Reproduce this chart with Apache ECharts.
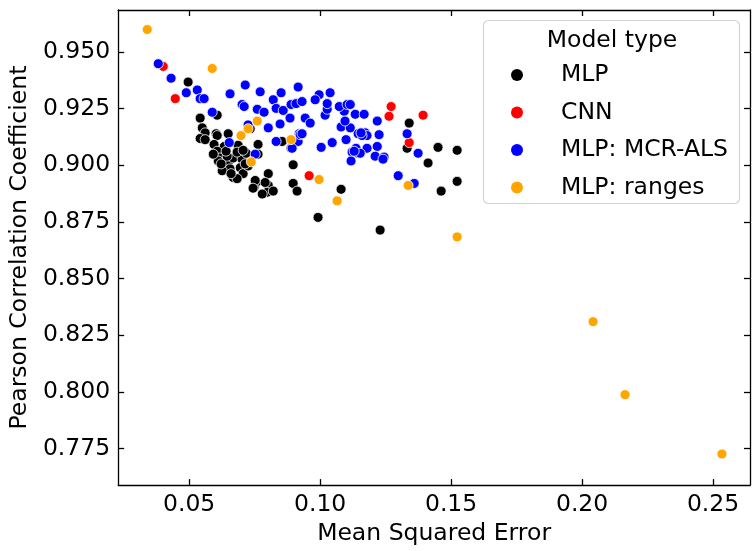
<!DOCTYPE html>
<html><head><meta charset="utf-8">
<script src="https://cdn.jsdelivr.net/npm/echarts@6/dist/echarts.min.js"></script>
<style>html,body{margin:0;padding:0;background:#fff}#c{width:752px;height:551px}</style>
</head><body><div id="c"></div>
<script>
const seriesNames = ['MLP', 'CNN', 'MLP: MCR-ALS', 'MLP: ranges'];
const seriesColors = ['#000000', '#ff0000', '#0000ff', '#ffa500'];

const mlp = [
[0.0496,0.9367],[0.0542,0.9208],[0.0607,0.9221],[0.0550,0.9165],[0.0561,0.9143],[0.0603,0.9139],[0.0649,0.9139],
[0.0542,0.9118],[0.0561,0.9113],[0.0607,0.9131],[0.0595,0.9092],[0.0634,0.9083],[0.0687,0.9088],[0.0763,0.9092],
[0.0607,0.9062],[0.0618,0.9032],[0.0611,0.9019],[0.0630,0.8997],[0.0649,0.9010],[0.0668,0.9032],[0.0702,0.9027],
[0.0695,0.8989],[0.0649,0.8976],[0.0668,0.8946],[0.0706,0.8963],[0.0656,0.8984],[0.0626,0.8976],[0.0763,0.9049],
[0.0802,0.8963],[0.0756,0.8924],[0.0802,0.8911],[0.0798,0.8881],[0.0748,0.8903],[0.0779,0.8873],[0.0897,0.9002],
[0.0897,0.8920],[0.0912,0.8886],[0.0645,0.9040],[0.0683,0.9058],[0.0592,0.9049],[0.0725,0.8997],[0.0718,0.9053],
[0.0706,0.9066],[0.0855,0.9105],[0.0889,0.9075],[0.0733,0.9161],[0.1340,0.9186],[0.1332,0.9075],[0.1450,0.9079],
[0.1523,0.9066],[0.0790,0.8924],[0.0752,0.8933],[0.0744,0.8899],[0.0821,0.8886],[0.1080,0.8894],[0.0992,0.8770],
[0.1229,0.8714],[0.1412,0.9010],[0.1462,0.8886],[0.1523,0.8929],[0.0683,0.8941],[0.0622,0.9006],[0.0660,0.8963],
[0.0641,0.9062],[0.0714,0.9006]
];
const cnn = [
[0.0401,0.9436],[0.0447,0.9294],[0.0958,0.8954],[0.1271,0.9259],[0.1263,0.9216],[0.1393,0.9221],[0.1340,0.9100]
];
const mcrAls = [
[0.0382,0.9448],[0.0431,0.9384],[0.0489,0.9320],[0.0531,0.9332],[0.0542,0.9294],[0.0557,0.9294],[0.0588,0.9234],
[0.0656,0.9315],[0.0714,0.9354],[0.0702,0.9268],[0.0710,0.9259],[0.0760,0.9247],[0.0771,0.9324],[0.0725,0.9178],
[0.0802,0.9165],[0.0847,0.9182],[0.0885,0.9208],[0.0653,0.9100],[0.0752,0.9049],[0.0832,0.9105],[0.0920,0.9139],
[0.0916,0.9105],[0.0916,0.9345],[0.0851,0.9320],[0.0821,0.9289],[0.0786,0.9234],[0.0832,0.9251],[0.0859,0.9242],
[0.0889,0.9268],[0.0908,0.9272],[0.0931,0.9281],[0.0943,0.9208],[0.0962,0.9186],[0.0924,0.9135],[0.0931,0.9139],
[0.0893,0.9075],[0.1004,0.9079],[0.1046,0.9100],[0.1099,0.9113],[0.1145,0.9139],[0.1172,0.9143],[0.1179,0.9131],
[0.1160,0.9131],[0.1080,0.9169],[0.1115,0.9165],[0.1092,0.9238],[0.1073,0.9259],[0.1103,0.9268],[0.1134,0.9225],
[0.1168,0.9225],[0.1019,0.9221],[0.1027,0.9247],[0.1027,0.9272],[0.1038,0.9320],[0.0996,0.9311],[0.0981,0.9289],
[0.1095,0.9195],[0.1122,0.9058],[0.1145,0.9053],[0.1179,0.9075],[0.1115,0.9268],[0.1218,0.9195],[0.1156,0.9143],
[0.1225,0.9135],[0.1137,0.9075],[0.1218,0.9083],[0.1153,0.9053],[0.1210,0.9040],[0.1244,0.9036],[0.1332,0.9139],
[0.1374,0.9053],[0.1118,0.9019],[0.1130,0.9062],[0.1240,0.9027],[0.1298,0.8954],[0.1359,0.8920]
];
const ranges = [
[0.0340,0.9599],[0.0588,0.9427],[0.0698,0.9131],[0.0725,0.9161],[0.0760,0.9195],[0.0737,0.9015],[0.0889,0.9113],
[0.0996,0.8937],[0.1065,0.8843],[0.1336,0.8911],[0.1523,0.8684],[0.2042,0.8310],[0.2164,0.7988],[0.2534,0.7726]
];

const xTicks = [0.05, 0.10, 0.15, 0.20, 0.25];
const yTicks = [0.775, 0.800, 0.825, 0.850, 0.875, 0.900, 0.925, 0.950];
const xRange = [0.0229, 0.2641];
const yRange = [0.7589, 0.9685];
const xTitle = 'Mean Squared Error';
const yTitle = 'Pearson Correlation Coefficient';
const legendTitle = 'Model type';

const FONT = 'DejaVu Sans';
const FS = 23.5;
const lineStyle = { color: '#000', width: 1.3 };
const tickStyle = { inside: true, length: 6, lineStyle: { color: '#000', width: 1.3 } };

function mkAxis(pos, showLabel, ticks, range, fmt, extra) {
  return Object.assign({
    type: 'value', position: pos, min: range[0], max: range[1],
    axisLine: { show: true, onZero: false, lineStyle: lineStyle },
    axisTick: Object.assign({ show: true, customValues: ticks }, tickStyle),
    axisLabel: { show: showLabel, customValues: ticks, formatter: v => v.toFixed(fmt),
      fontFamily: FONT, fontSize: FS, color: '#000', margin: 8 },
    splitLine: { show: false }
  }, extra || {});
}

const datasets = [mlp, cnn, mcrAls, ranges];
const chart = echarts.init(document.getElementById('c'), null, { renderer: 'canvas' });
chart.setOption({
  animation: false,
  backgroundColor: '#fff',
  grid: { left: 118, right: 2, top: 10, bottom: 52, containLabel: false },
  xAxis: [
    mkAxis('bottom', true, xTicks, xRange, 2, { name: xTitle, nameLocation: 'middle', nameGap: 35,
      nameTextStyle: { fontFamily: FONT, fontSize: FS, color: '#000' } }),
    mkAxis('top', false, xTicks, xRange, 2)
  ],
  yAxis: [
    mkAxis('left', true, yTicks, yRange, 3, { name: yTitle, nameLocation: 'middle', nameGap: 65,
      nameTextStyle: { fontFamily: FONT, fontSize: FS, color: '#000' } }),
    mkAxis('right', false, yTicks, yRange, 3)
  ],
  legend: {
    orient: 'vertical', left: 511, top: 63, padding: 0,
    itemWidth: 12, itemHeight: 12, itemGap: 13.5, icon: 'circle',
    selectedMode: false,
    itemStyle: { borderWidth: 0 },
    textStyle: { fontFamily: FONT, fontSize: FS, color: '#000', lineHeight: 22, padding: [0, 0, 0, 33] },
    data: seriesNames
  },
  graphic: [
    { type: 'rect', z: 3, shape: { x: 483.5, y: 20.5, width: 256, height: 183, r: 5 },
      style: { fill: '#fff', stroke: '#d4d4d4', lineWidth: 1.2 } },
    { type: 'text', z: 5, x: 612, y: 41,
      style: { text: legendTitle, align: 'center', verticalAlign: 'middle', fontFamily: FONT, fontSize: FS, fill: '#000' } }
  ],
  series: datasets.map((d, i) => ({
    name: seriesNames[i], type: 'scatter', xAxisIndex: 0, yAxisIndex: 0,
    data: d, symbol: 'circle', symbolSize: 10,
    itemStyle: { color: seriesColors[i], borderColor: '#fff', borderWidth: 0.8, opacity: 1 },
    emphasis: { disabled: true }, z: 2 + i * 0.01
  }))
});
</script>
</body></html>
